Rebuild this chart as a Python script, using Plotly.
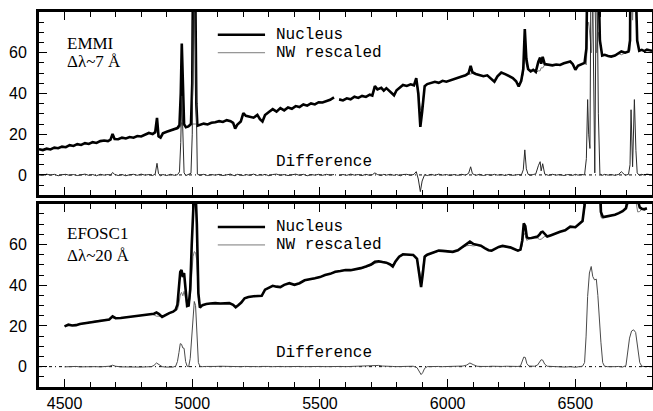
import plotly.graph_objects as go

# ---------------- EMMI panel (top) ----------------
top_wl = [
    4400, 4415, 4430, 4445, 4460, 4475, 4490, 4505, 4520, 4535,
    4550, 4565, 4580, 4595, 4610, 4625, 4640, 4655, 4670, 4680,
    4688, 4696, 4710, 4725, 4740, 4755, 4770, 4785, 4800, 4815,
    4830, 4845, 4855, 4862, 4868, 4876, 4885, 4900, 4915, 4930,
    4942, 4950, 4955, 4959, 4963, 4968, 4975, 4985, 4995, 5000,
    5004, 5008, 5012, 5016, 5020, 5030, 5045, 5060, 5075, 5090,
    5105, 5120, 5135, 5150, 5160, 5168, 5176, 5190, 5200, 5210,
    5225, 5240, 5255, 5265, 5275, 5285, 5300, 5315, 5330, 5345,
    5360, 5375, 5390, 5405, 5420, 5435, 5450, 5465, 5480, 5495,
    5510, 5525, 5540, 5555, 5565, 5575, 5590, 5605, 5620, 5635,
    5650, 5665, 5680, 5695, 5705, 5715, 5725, 5740, 5750, 5760,
    5775, 5790, 5800, 5815, 5825, 5840, 5855, 5868, 5877, 5885,
    5893, 5900, 5910, 5920, 5935, 5950, 5965, 5980, 5995, 6010,
    6025, 6040, 6055, 6070, 6082, 6090, 6097, 6110, 6125, 6140,
    6155, 6170, 6183, 6195, 6210, 6225, 6240, 6255, 6268, 6278,
    6288, 6296, 6302, 6308, 6315, 6325, 6335, 6345, 6355, 6362,
    6366, 6372, 6380, 6395, 6410, 6425, 6440, 6455, 6470, 6480,
    6490, 6500, 6510, 6525, 6536, 6543, 6548, 6552, 6557, 6563,
    6570, 6576, 6583, 6590, 6596, 6605, 6615, 6628, 6640, 6655,
    6670, 6680, 6695, 6708, 6714, 6718, 6724, 6731, 6737, 6742,
    6750, 6760, 6770, 6780, 6790, 6800,
]
top_nucleus = [
    12.6, 12.2, 12.9, 12.5, 13.4, 13.1, 13.9, 13.6, 14.6, 14.2,
    15.1, 14.7, 15.6, 15.2, 16.1, 15.7, 16.6, 16.9, 16.6, 17.3,
    20.1, 17.6, 17.5, 18.3, 17.9, 18.6, 18.3, 19.1, 18.9, 19.7,
    20.6, 20.1, 21.0, 28.0, 19.0, 18.3, 20.4, 21.2, 21.8, 22.4,
    23.0, 24.5, 40.0, 64.5, 40.0, 25.0, 23.4, 23.8, 25.0, 45.0,
    120, 125, 90, 35.0, 24.2, 24.6, 25.2, 24.8, 25.6, 25.9,
    26.4, 26.0, 26.9, 26.4, 25.6, 22.8, 24.6, 26.2, 30.4, 29.0,
    28.6, 28.1, 29.5, 27.4, 26.2, 29.4, 30.9, 32.3, 31.1, 32.8,
    31.7, 33.1, 32.5, 33.8, 33.3, 34.6, 34.0, 35.1, 34.6, 35.7,
    35.6, 36.3, 36.9, 38.1, None, 37.1, 36.6, 37.6, 37.1, 38.4,
    37.8, 38.8, 38.3, 39.4, 39.0, 43.6, 42.0, 42.8, 41.4, 42.6,
    40.9, 39.1, 41.6, 43.4, 44.2, 43.7, 44.5, 44.0, 47.5, 40.0,
    23.6, 31.0, 43.6, 44.6, 45.0, 45.7, 45.2, 46.2, 45.8, 46.5,
    47.0, 47.9, 48.3, 48.9, 50.0, 53.5, 50.4, 49.6, 49.0, 48.5,
    48.9, 47.1, 45.8, 48.4, 50.3, 49.5, 48.6, 47.6, 46.0, 43.4,
    46.2, 52.0, 71.6, 57.0, 52.0, 50.8, 51.6, 50.6, 55.6, 57.6,
    54.6, 58.0, 54.4, 54.0, 53.8, 54.2, 54.0, 54.8, 55.5, 55.7,
    54.4, 51.6, 53.6, 54.6, 55.0, 62.0, 110, 95, 80, 200,
    150, 85, 180, 100, 66.0, 58.6, 59.0, 58.4, 58.1, 58.6,
    59.6, 60.6, 60.0, 60.6, 66.0, 150, 80, 140, 90, 66.0,
    61.0, 61.4, 60.8, 61.5, 61.2, 61.0,
]
top_nw_rescaled = [
    12.6, 12.2, 12.9, 12.5, 13.4, 13.1, 13.9, 13.6, 14.6, 14.2,
    15.1, 14.7, 15.6, 15.2, 16.1, 15.7, 16.6, 16.9, 16.6, 17.3,
    18.9, 17.6, 17.5, 18.3, 17.9, 18.6, 18.3, 19.1, 18.9, 19.7,
    20.6, 20.1, 20.5, 22.3, 18.4, 18.3, 20.4, 21.2, 21.8, 22.4,
    23.0, 23.0, 24.0, 25.7, 25.0, 24.0, 23.4, 23.8, 24.2, 25.0,
    25.0, 25.0, 25.0, 25.0, 24.2, 24.6, 25.2, 24.8, 25.6, 25.9,
    26.4, 26.0, 26.9, 26.4, 25.6, 22.8, 24.6, 26.2, 30.4, 29.0,
    28.6, 28.1, 29.5, 27.4, 26.2, 29.4, 30.9, 32.3, 31.1, 32.8,
    31.7, 33.1, 32.5, 33.8, 33.3, 34.6, 34.0, 35.1, 34.6, 35.7,
    35.6, 36.3, 36.9, 38.1, None, 37.1, 36.6, 37.6, 37.1, 38.4,
    37.8, 38.8, 38.3, 39.4, 39.0, 42.6, 42.0, 42.8, 41.4, 42.6,
    40.9, 39.1, 41.6, 43.4, 44.2, 43.7, 44.5, 44.0, 45.9, 42.0,
    31.8, 34.0, 43.6, 44.6, 45.0, 45.7, 45.2, 46.2, 45.8, 46.5,
    47.0, 47.9, 48.3, 48.9, 49.2, 49.5, 49.8, 49.6, 49.0, 48.5,
    48.9, 47.1, 45.8, 48.4, 50.3, 49.5, 48.6, 47.6, 46.0, 43.4,
    46.2, 49.5, 59.3, 54.0, 51.7, 50.8, 51.6, 50.1, 51.1, 51.1,
    52.6, 52.5, 54.0, 54.0, 53.8, 54.2, 54.0, 54.8, 55.5, 55.7,
    54.4, 51.6, 53.6, 54.6, 55.0, 54.0, 73.0, 75.0, 67.0, 60.0,
    90, 84, 60, 70, 65.5, 58.6, 59.0, 58.4, 58.1, 58.6,
    59.6, 59.0, 60.0, 60.6, 61.0, 118, 76, 103, 78, 65.0,
    61.0, 61.4, 60.8, 61.5, 61.2, 61.0,
]
top_difference = [
    0.2, -0.3, 0.4, -0.1, 0.3, -0.4, 0.1, 0.3, -0.2, 0.2,
    -0.3, 0.1, 0.4, -0.2, 0.2, -0.4, 0.3, -0.1, 0.2, -0.2,
    1.2, 0.3, -0.3, 0.2, -0.4, 0.1, 0.3, -0.2, 0.4, -0.1,
    0.2, -0.3, 0.5, 5.7, 0.6, -0.4, 0.2, -0.3, 0.3, -0.2,
    0.1, 1.5, 16.0, 38.8, 15.0, 1.0, -0.3, 0.2, 0.8, 20.0,
    95, 100, 65, 10.0, 0.4, -0.2, 0.3, -0.3, 0.2, -0.1,
    0.3, -0.3, 0.2, 0.4, -0.2, -0.4, 0.3, 0.1, -0.3, 0.2,
    -0.2, 0.4, -0.3, 0.2, -0.1, 0.3, -0.4, 0.2, 0.4, -0.2,
    0.2, -0.3, 0.1, 0.4, -0.2, 0.3, -0.4, 0.2, -0.1, 0.3,
    -0.2, 0.3, -0.1, 0.2, None, -0.3, 0.2, -0.2, 0.4, -0.1,
    0.2, -0.3, 0.3, -0.2, 0.1, 1.0, 0.2, -0.3, 0.3, -0.1,
    0.3, -0.2, 0.2, -0.4, 0.2, 0.3, -0.2, 0.3, 1.6, -2.0,
    -8.2, -3.0, 0.2, -0.3, 0.3, -0.2, 0.4, -0.1, 0.2, -0.3,
    0.2, -0.2, 0.3, -0.1, 0.8, 4.0, 0.6, -0.2, 0.3, -0.3,
    0.2, -0.2, 0.3, -0.1, 0.2, -0.3, 0.3, -0.2, 0.1, 0.2,
    -0.2, 2.5, 12.3, 3.0, 0.3, -0.2, 0.2, 0.5, 4.5, 6.5,
    2.0, 5.5, 0.4, -0.2, 0.3, -0.1, 0.2, -0.3, 0.2, 0.1,
    -0.2, 0.3, -0.1, 0.2, 0.0, 8.0, 37.0, 20.0, 13.0, 140,
    60, 1.0, 120, 30, 0.5, -0.2, 0.3, -0.1, 0.2, -0.2,
    0.3, 1.6, -0.2, 0.3, 5.0, 32.0, 4.0, 37.0, 12.0, 1.0,
    -0.2, 0.3, -0.1, 0.4, 0.2, 0.1,
]

# ---------------- EFOSC1 panel (bottom) ----------------
bot_wl = [
    4500, 4515, 4530, 4545, 4560, 4580, 4600, 4620, 4640, 4660,
    4675, 4688, 4700, 4720, 4740, 4760, 4780, 4800, 4820, 4840,
    4850, 4860, 4870, 4882, 4895, 4910, 4925, 4935, 4942, 4948,
    4953, 4958, 4963, 4968, 4974, 4980, 4986, 4992, 4998, 5003,
    5008, 5013, 5018, 5024, 5030, 5040, 5055, 5070, 5090, 5110,
    5130, 5145, 5160, 5170, 5180, 5192, 5205, 5220, 5240, 5260,
    5272, 5285, 5300, 5315, 5330, 5345, 5360, 5380, 5400, 5420,
    5440, 5460, 5480, 5500, 5520, 5540, 5560, 5580, 5600, 5620,
    5640, 5660, 5680, 5700, 5715, 5730, 5745, 5760, 5775, 5785,
    5795, 5810, 5825, 5845, 5865, 5880, 5890, 5896, 5902, 5910,
    5920, 5935, 5950, 5965, 5980, 6000, 6020, 6040, 6060, 6075,
    6087, 6100, 6115, 6130, 6145, 6160, 6172, 6185, 6200, 6215,
    6230, 6245, 6260, 6275, 6285, 6292, 6298, 6304, 6310, 6318,
    6328, 6340, 6352, 6360, 6366, 6372, 6380, 6390, 6405, 6420,
    6440, 6460, 6480, 6500, 6515, 6528, 6536, 6542, 6548, 6555,
    6562, 6568, 6575, 6582, 6588, 6594, 6600, 6607, 6614, 6625,
    6640, 6655, 6670, 6685, 6698, 6704, 6712, 6720, 6728, 6736,
    6744, 6752, 6760, 6770, 6780,
]
bot_nucleus = [
    19.8, 20.6, 20.2, 20.4, 21.0, 21.4, 21.8, 22.4, 22.7, 22.9,
    23.2, 24.7, 23.8, 23.9, 24.2, 24.4, 24.7, 25.0, 25.6, 25.8,
    26.0, 26.6, 25.8, 24.4, 25.4, 26.3, 27.0, 28.0, 30.5, 38.0,
    46.5, 47.5, 44.0, 46.0, 36.0, 29.8, 30.0, 38.0, 60.0, 80.0,
    88.5, 86.0, 70.0, 36.0, 29.0, 30.2, 30.8, 31.0, 31.2, 31.0,
    31.3, 31.2, 30.4, 29.2, 30.2, 31.5, 33.6, 34.2, 34.6, 34.5,
    34.8, 37.8, 38.8, 39.7, 39.3, 39.1, 40.2, 41.0, 40.2, 41.0,
    42.4, 42.8, 43.4, 44.0, 45.0, 45.6, 46.6, 47.0, 47.5, 47.4,
    47.8, 48.4, 49.2, 50.2, 51.5, 51.8, 51.4, 51.1, 50.2, 49.2,
    51.5, 54.0, 55.2, 55.0, 54.9, 53.0, 45.0, 39.1, 45.0, 54.0,
    55.0, 55.6, 56.3, 57.0, 56.9, 56.5, 56.4, 57.2, 59.0, 60.2,
    61.4, 60.3, 59.8, 59.4, 58.2, 57.2, 57.0, 57.8, 58.8, 59.3,
    59.0, 58.6, 57.8, 57.0, 57.5, 62.0, 70.4, 69.0, 63.5, 63.1,
    63.2, 63.5, 63.9, 65.0, 66.0, 66.3, 65.2, 63.9, 64.6, 65.4,
    66.3, 67.0, 68.8, 68.5, 70.0, 71.5, 79.4, 90, 110, 125,
    130, 128, 122, 120, 112, 100, 76.0, 73.7, 73.6, 73.8,
    74.2, 74.6, 75.4, 76.4, 77.8, 82, 90, 96, 97, 94,
    82, 78.2, 77.6, 77.3, 77.8,
]
bot_nw_rescaled = [
    19.9, 20.6, 20.3, 20.3, 21.1, 21.4, 21.9, 22.4, 22.8, 22.8,
    23.0, 24.0, 23.6, 24.0, 24.4, 24.6, 24.8, 25.2, 25.7, 25.8,
    25.4, 24.8, 24.8, 24.4, 25.6, 26.6, 27.2, 27.8, 28.0, 31.0,
    35.2, 36.5, 34.8, 37.0, 33.5, 29.6, 30.0, 34.0, 45.0, 54.0,
    56.5, 56.0, 52.0, 34.0, 28.8, 30.2, 30.7, 31.0, 31.1, 30.8,
    31.2, 31.0, 30.3, 29.2, 30.3, 31.5, 33.5, 34.2, 34.5, 34.5,
    34.7, 37.6, 38.7, 39.7, 39.1, 39.0, 40.2, 40.9, 40.0, 40.9,
    42.4, 42.7, 43.2, 43.9, 45.0, 45.5, 46.4, 46.9, 47.5, 47.3,
    47.7, 48.2, 48.9, 49.7, 50.7, 51.2, 51.1, 51.0, 50.2, 49.1,
    51.5, 53.9, 55.0, 54.7, 54.7, 53.5, 47.5, 43.0, 48.0, 54.8,
    55.0, 55.5, 56.1, 56.9, 56.9, 56.4, 56.2, 57.1, 58.7, 59.4,
    59.6, 59.3, 59.6, 59.3, 58.2, 57.1, 56.8, 57.7, 58.8, 59.2,
    58.8, 58.5, 57.8, 56.9, 57.2, 59.5, 65.7, 64.5, 62.0, 62.8,
    63.1, 63.3, 63.1, 62.5, 62.6, 63.1, 64.0, 63.7, 64.5, 65.4,
    66.2, 67.2, 68.8, 68.8, 70.0, 71.3, 77.4, 82, 85, 90,
    95, 92, 88, 86, 85, 82, 73.5, 72.5, 73.4, 73.8,
    74.3, 74.6, 75.3, 76.6, 77.3, 79, 82, 84, 84, 82,
    76.0, 76.2, 77.4, 77.3, 77.9,
]
bot_difference = [
    -0.1, 0.0, -0.1, 0.1, -0.1, 0.0, -0.1, 0.0, -0.1, 0.1,
    0.2, 0.7, 0.2, -0.1, -0.2, -0.2, -0.1, -0.2, -0.1, 0.0,
    0.6, 1.8, 1.0, 0.0, -0.2, -0.3, -0.2, 0.2, 2.5, 7.0,
    11.3, 11.0, 9.2, 9.0, 2.5, 0.2, 0.0, 4.0, 15.0, 26.0,
    32.0, 30.0, 18.0, 2.0, 0.2, 0.0, 0.1, 0.0, 0.1, 0.2,
    0.1, 0.2, 0.1, 0.0, -0.1, 0.0, 0.1, 0.0, 0.1, 0.0,
    0.1, 0.2, 0.1, 0.0, 0.2, 0.1, 0.0, 0.1, 0.2, 0.1,
    0.0, 0.1, 0.2, 0.1, 0.0, 0.1, 0.2, 0.1, 0.0, 0.1,
    0.1, 0.2, 0.3, 0.5, 0.8, 0.6, 0.3, 0.1, 0.0, 0.1,
    0.0, 0.1, 0.2, 0.3, 0.2, -0.5, -2.5, -3.9, -3.0, -0.8,
    0.0, 0.1, 0.2, 0.1, 0.0, 0.1, 0.2, 0.1, 0.3, 0.8,
    1.8, 1.0, 0.2, 0.1, 0.0, 0.1, 0.2, 0.1, 0.0, 0.1,
    0.2, 0.1, 0.0, 0.1, 0.3, 2.5, 4.7, 4.5, 1.5, 0.3,
    0.1, 0.2, 0.8, 2.5, 3.4, 3.2, 1.2, 0.2, 0.1, 0.0,
    0.1, -0.2, 0.0, -0.3, 0.0, 0.2, 2.0, 15.0, 34.5, 46.0,
    49.2, 44.3, 42.6, 43.0, 35.0, 22.0, 12.0, 2.0, 0.2, 0.0,
    -0.1, 0.0, 0.1, -0.2, 0.5, 6.0, 14.0, 17.5, 18.1, 16.8,
    10.0, 2.0, 0.2, 0.0, -0.1,
]

x_ticks = [4500, 5000, 5500, 6000, 6500]
y_ticks = [0, 20, 40, 60]
x_range = [4400, 6800]
y_range = [-10, 80]

for a in (top_nucleus, top_nw_rescaled, top_difference):
    assert len(a) == len(top_wl)
for a in (bot_nucleus, bot_nw_rescaled, bot_difference):
    assert len(a) == len(bot_wl)

fig = go.Figure()

panels = [
    ("x", "y", top_wl, top_nucleus, top_nw_rescaled, top_difference, "#2a2a2a"),
    ("x2", "y2", bot_wl, bot_nucleus, bot_nw_rescaled, bot_difference, "#4a4a4a"),
]
for xa, ya, wl, nuc, nw, diff, dcol in panels:
    fig.add_trace(go.Scatter(x=wl, y=nw, xaxis=xa, yaxis=ya, mode="lines",
                             line=dict(color="#7a7a7a", width=1), showlegend=False))
    fig.add_trace(go.Scatter(x=wl, y=nuc, xaxis=xa, yaxis=ya, mode="lines",
                             line=dict(color="black", width=2.6), showlegend=False))
    fig.add_trace(go.Scatter(x=wl, y=diff, xaxis=xa, yaxis=ya, mode="lines",
                             line=dict(color=dcol, width=1), showlegend=False))

tickfont = dict(family="Liberation Sans", size=16, color="black")

def xaxis_cfg(anchor, labels):
    return dict(range=x_range, anchor=anchor, domain=[0, 1], automargin=False,
                showline=True, linewidth=3, linecolor="black", mirror="ticks",
                ticks="inside", ticklen=8, tickwidth=1.2, tickcolor="black",
                tickmode="array", tickvals=x_ticks, showticklabels=labels,
                tickfont=tickfont, ticklabelstandoff=0,
                minor=dict(ticks="inside", ticklen=5, tickwidth=1, tickcolor="black",
                           tickmode="linear", tick0=4400, dtick=100, showgrid=False),
                showgrid=False, zeroline=False)

def yaxis_cfg(anchor, dom):
    return dict(range=y_range, anchor=anchor, domain=dom, automargin=False,
                showline=True, linewidth=3, linecolor="black", mirror="ticks",
                ticks="inside", ticklen=8, tickwidth=1.2, tickcolor="black",
                tickmode="array", tickvals=y_ticks, tickfont=tickfont,
                ticklabelstandoff=6,
                minor=dict(ticks="inside", ticklen=5, tickwidth=1, tickcolor="black",
                           tickmode="linear", tick0=0, dtick=5, showgrid=False),
                showgrid=False, zeroline=False)

fig.update_layout(
    width=653, height=411,
    margin=dict(l=39, r=1, t=12, b=24, autoexpand=False),
    paper_bgcolor="white", plot_bgcolor="white",
    xaxis=xaxis_cfg("y", False),
    yaxis=yaxis_cfg("x", [0.5112, 1.0]),
    xaxis2=xaxis_cfg("y2", True),
    yaxis2=yaxis_cfg("x2", [0.0, 0.4885]),
    showlegend=False,
    hovermode=False,
)

# dotted zero lines
for xr, yr in (("x domain", "y"), ("x2 domain", "y2")):
    fig.add_shape(type="line", xref=xr, yref=yr, x0=0, x1=1, y0=0, y1=0,
                  line=dict(color="black", width=1, dash="3px,3px,1px,3px"), layer="below")

serif = dict(family="Liberation Serif", size=17, color="black")
mono = dict(family="Liberation Mono", size=16, color="black")

labels = [
    ("x", "y", "EMMI", "Δλ~7 Å", 64.6, 55.6, 68.8, 60.0, 6.4),
    ("x2", "y2", "EFOSC1", "Δλ~20 Å", 65.6, 54.6, 68.6, 59.8, 6.9),
]
for xr, yr, inst, res, yi, yres, yn, yw, yd in labels:
    fig.add_annotation(x=4500, y=yi, xref=xr, yref=yr, text=inst, showarrow=False,
                       xanchor="left", yanchor="middle", font=serif)
    fig.add_annotation(x=4500, y=yres, xref=xr, yref=yr, text=res, showarrow=False,
                       xanchor="left", yanchor="middle", font=serif)
    fig.add_shape(type="line", xref=xr, yref=yr, x0=5100, x1=5285, y0=yn, y1=yn,
                  line=dict(color="black", width=2.6))
    fig.add_shape(type="line", xref=xr, yref=yr, x0=5100, x1=5285, y0=yw, y1=yw,
                  line=dict(color="#7a7a7a", width=1))
    fig.add_annotation(x=5322, y=yn, xref=xr, yref=yr, text="Nucleus", showarrow=False,
                       xanchor="left", yanchor="middle", font=mono)
    fig.add_annotation(x=5322, y=yw, xref=xr, yref=yr, text="NW rescaled", showarrow=False,
                       xanchor="left", yanchor="middle", font=mono)
    fig.add_annotation(x=5322, y=yd, xref=xr, yref=yr, text="Difference", showarrow=False,
                       xanchor="left", yanchor="middle", font=mono)

# remove the browser's default 8px body margin so the 653x411 figure fills the window
fig.write_html("out.html", config={"displayModeBar": False},
               post_script="document.body.style.margin='0';")
